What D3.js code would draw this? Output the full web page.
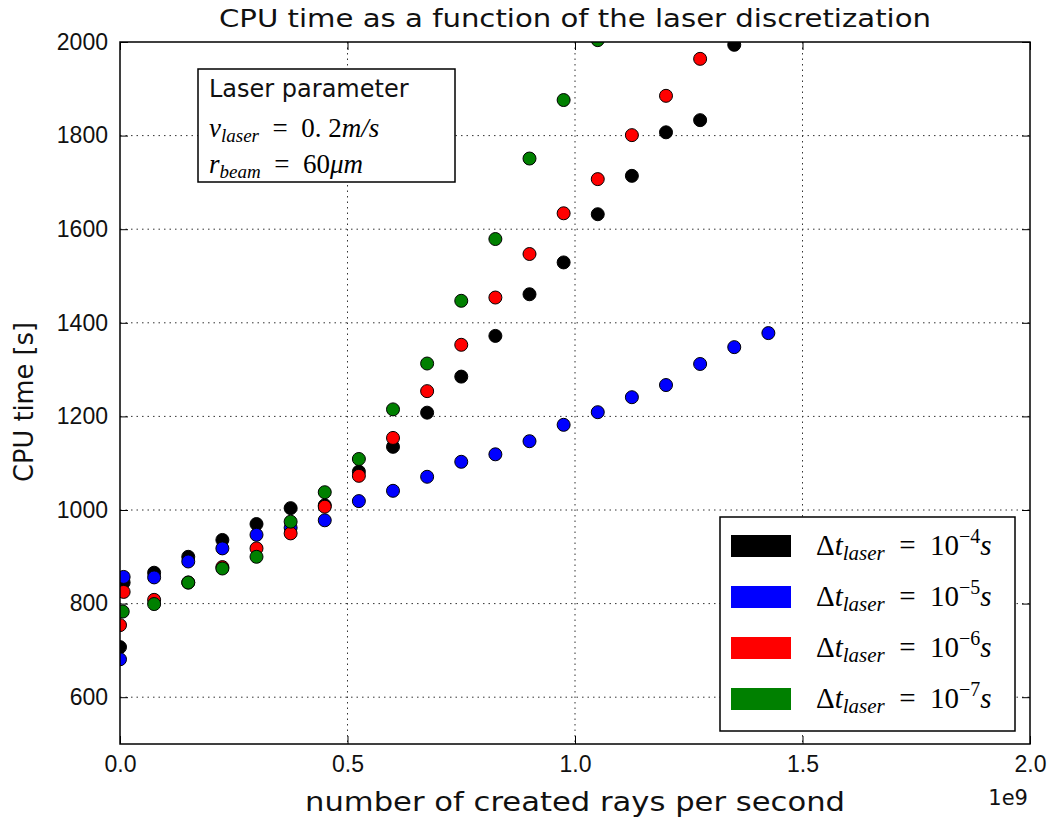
<!DOCTYPE html>
<html>
<head>
<meta charset="utf-8">
<script src="https://cdn.jsdelivr.net/npm/d3@7"></script>
<style>
  body { margin: 0; background: #fff; }
  svg { font-family: "DejaVu Sans", sans-serif; }
</style>
</head>
<body>
<div id="chart"></div>
<script>
// Data (x in units of 1e9 rays/s, y in s)
const blackX = [0, 0.008, 0.075, 0.15, 0.225, 0.3, 0.375, 0.45, 0.525, 0.6, 0.675, 0.75, 0.825, 0.9, 0.975, 1.05, 1.125, 1.2, 1.275, 1.35];
const blackY = [707, 845, 866, 900, 936, 970, 1004, 1010, 1082, 1135, 1208, 1285, 1372, 1461, 1529, 1632, 1714, 1807, 1833, 1994];

const blueX = [0, 0.008, 0.075, 0.15, 0.225, 0.3, 0.375, 0.45, 0.525, 0.6, 0.675, 0.75, 0.825, 0.9, 0.975, 1.05, 1.125, 1.2, 1.275, 1.35, 1.425];
const blueY = [681, 857, 856, 890, 918, 947, 962, 978, 1019, 1041, 1071, 1103, 1119, 1147, 1182, 1209, 1241, 1267, 1312, 1348, 1378];

const redX = [0, 0.008, 0.075, 0.15, 0.225, 0.3, 0.375, 0.45, 0.525, 0.6, 0.675, 0.75, 0.825, 0.9, 0.975, 1.05, 1.125, 1.2, 1.275];
const redY = [754, 825, 808, 845, 878, 918, 950, 1007, 1073, 1154, 1254, 1353, 1454, 1547, 1634, 1707, 1801, 1885, 1964];

const greenX = [0.006, 0.075, 0.15, 0.225, 0.3, 0.375, 0.45, 0.525, 0.6, 0.675, 0.75, 0.825, 0.9, 0.975, 1.05];
const greenY = [783, 799, 845, 875, 900, 975, 1038, 1109, 1215, 1313, 1447, 1579, 1751, 1876, 2004];

const seriesNames = ["-4", "-5", "-6", "-7"];
const seriesColors = ["#000000", "#0000ff", "#ff0000", "#008000"];

const xTicks = [0, 0.5, 1.0, 1.5, 2.0];
const yTicks = [600, 800, 1000, 1200, 1400, 1600, 1800, 2000];

const series = [
  { exp: seriesNames[0], color: seriesColors[0], xs: blackX, ys: blackY },
  { exp: seriesNames[1], color: seriesColors[1], xs: blueX, ys: blueY },
  { exp: seriesNames[2], color: seriesColors[2], xs: redX, ys: redY },
  { exp: seriesNames[3], color: seriesColors[3], xs: greenX, ys: greenY }
];

const width = 1050, height = 818;
const margin = { top: 42, right: 20, bottom: 74, left: 120 };
const plotW = width - margin.left - margin.right;
const plotH = height - margin.top - margin.bottom;

const svg = d3.select("#chart")
  .append("svg")
  .attr("width", width)
  .attr("height", height);

svg.append("defs").append("clipPath")
  .attr("id", "plotclip")
  .append("rect")
  .attr("width", plotW)
  .attr("height", plotH);

const g = svg.append("g")
  .attr("transform", `translate(${margin.left},${margin.top})`);

const x = d3.scaleLinear().domain([0, 2.0]).range([0, plotW]);
const y = d3.scaleLinear().domain([500, 2000]).range([plotH, 0]);

// grid lines (dotted, matplotlib classic style)
g.append("g")
  .selectAll("line")
  .data(xTicks.slice(1, -1))
  .join("line")
  .attr("x1", d => x(d)).attr("x2", d => x(d))
  .attr("y1", 0).attr("y2", plotH)
  .attr("stroke", "#333")
  .attr("stroke-width", 1)
  .attr("stroke-dasharray", "1.5,4");

g.append("g")
  .selectAll("line")
  .data(yTicks.slice(0, -1))
  .join("line")
  .attr("x1", 0).attr("x2", plotW)
  .attr("y1", d => y(d)).attr("y2", d => y(d))
  .attr("stroke", "#333")
  .attr("stroke-width", 1)
  .attr("stroke-dasharray", "1.5,4");

// scatter points, clipped to the axes
const pts = g.append("g").attr("clip-path", "url(#plotclip)");
series.forEach(s => {
  pts.append("g")
    .selectAll("circle")
    .data(s.xs.map((v, i) => [v, s.ys[i]]))
    .join("circle")
    .attr("cx", d => x(d[0]))
    .attr("cy", d => y(d[1]))
    .attr("r", 6.5)
    .attr("fill", s.color)
    .attr("stroke", "#000")
    .attr("stroke-width", 1);
});

// axes: ticks inward on all four sides
const tickLen = 8;
const xAxis = d3.axisBottom(x).tickValues(xTicks).tickFormat(d3.format(".1f")).tickSizeInner(-tickLen).tickSizeOuter(0).tickPadding(12);
const yAxis = d3.axisLeft(y).tickValues(yTicks).tickFormat(d3.format("d")).tickSizeInner(-tickLen).tickSizeOuter(0).tickPadding(12);

g.append("g").attr("transform", `translate(0,${plotH})`).call(xAxis)
  .call(a => a.select(".domain").remove())
  .selectAll("text").style("font-size", "23px").attr("fill", "#111");
g.append("g").call(yAxis)
  .call(a => a.select(".domain").remove())
  .selectAll("text").style("font-size", "23px").attr("fill", "#111");

g.append("g").call(d3.axisTop(x).tickValues(xTicks).tickSizeInner(-tickLen).tickSizeOuter(0).tickFormat(""))
  .call(a => a.select(".domain").remove());
g.append("g").attr("transform", `translate(${plotW},0)`)
  .call(d3.axisRight(y).tickValues(yTicks).tickSizeInner(-tickLen).tickSizeOuter(0).tickFormat(""))
  .call(a => a.select(".domain").remove());

g.append("rect")
  .attr("width", plotW).attr("height", plotH)
  .attr("fill", "none").attr("stroke", "#000").attr("stroke-width", 1.5);

// offset text
svg.append("text")
  .attr("x", 1028).attr("y", 805)
  .attr("text-anchor", "end")
  .style("font-size", "21px")
  .attr("fill", "#111")
  .text("1e9");

// title and axis labels
svg.append("text")
  .attr("x", margin.left + plotW / 2).attr("y", 27)
  .attr("text-anchor", "middle")
  .attr("textLength", 712).attr("lengthAdjust", "spacingAndGlyphs")
  .style("font-size", "24px")
  .attr("fill", "#111")
  .text("CPU time as a function of the laser discretization");

svg.append("text")
  .attr("x", margin.left + plotW / 2).attr("y", 811)
  .attr("text-anchor", "middle")
  .attr("textLength", 540).attr("lengthAdjust", "spacingAndGlyphs")
  .style("font-size", "26px")
  .attr("fill", "#111")
  .text("number of created rays per second");

svg.append("text")
  .attr("transform", `translate(33,402) rotate(-90)`)
  .attr("text-anchor", "middle")
  .attr("textLength", 160).attr("lengthAdjust", "spacingAndGlyphs")
  .style("font-size", "26px")
  .attr("fill", "#111")
  .text("CPU time [s]");

// parameter text box
const serif = "'Liberation Serif', 'DejaVu Serif', serif";
const eq = "\u2002=\u2002";
const box = svg.append("g").attr("transform", "translate(198,69)");
box.append("rect")
  .attr("width", 257).attr("height", 113)
  .attr("fill", "#fff").attr("stroke", "#000").attr("stroke-width", 1.5);
box.append("text").attr("x", 11).attr("y", 28).style("font-size", "24px").attr("fill", "#111").text("Laser parameter");

const l1 = box.append("text").attr("x", 11).attr("y", 68).style("font-family", serif).style("font-size", "27px");
l1.append("tspan").style("font-style", "italic").text("v");
l1.append("tspan").style("font-style", "italic").style("font-size", "19px").attr("dy", 5).text("laser");
l1.append("tspan").attr("dy", -5).text(eq + "0. 2");
l1.append("tspan").style("font-style", "italic").text("m/s");

const l2 = box.append("text").attr("x", 11).attr("y", 104).style("font-family", serif).style("font-size", "27px");
l2.append("tspan").style("font-style", "italic").text("r");
l2.append("tspan").style("font-style", "italic").style("font-size", "19px").attr("dy", 5).text("beam");
l2.append("tspan").attr("dy", -5).text(eq + "60");
l2.append("tspan").style("font-style", "italic").text("μm");

// legend
const legend = svg.append("g").attr("transform", "translate(720,517)");
legend.append("rect")
  .attr("width", 295).attr("height", 214)
  .attr("fill", "#fff").attr("stroke", "#000").attr("stroke-width", 1.5);

const rowH = 51;
const rows = legend.selectAll("g.row")
  .data(series)
  .join("g")
  .attr("class", "row")
  .attr("transform", (d, i) => `translate(0,${29 + i * rowH})`);

rows.append("rect")
  .attr("x", 11).attr("y", -11)
  .attr("width", 60).attr("height", 22)
  .attr("fill", d => d.color);

const lt = rows.append("text")
  .attr("x", 96).attr("y", 9)
  .style("font-family", serif)
  .style("font-size", "29px");
lt.append("tspan").text("Δ");
lt.append("tspan").style("font-style", "italic").text("t");
lt.append("tspan").style("font-style", "italic").style("font-size", "21px").attr("dy", 5).text("laser");
lt.append("tspan").attr("dy", -5).text(eq + "10");
lt.append("tspan").style("font-size", "20px").attr("dy", -12).text(d => d.exp.replace("-", "−"));
lt.append("tspan").style("font-style", "italic").attr("dy", 12).text("s");
</script>
</body>
</html>
